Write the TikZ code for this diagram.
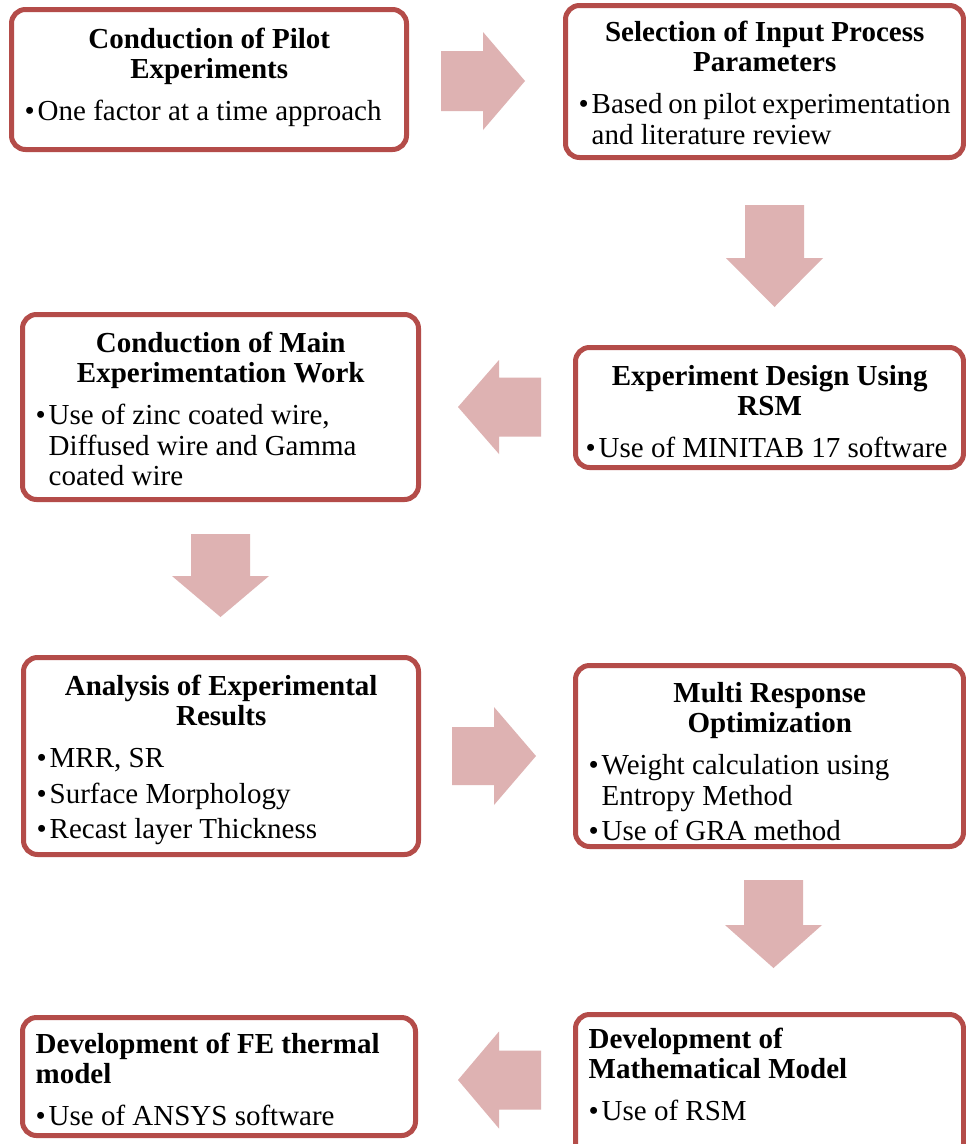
\documentclass[tikz,border=0pt]{standalone}
\usepackage{fontspec}
\setmainfont{Liberation Serif}
\definecolor{boxline}{RGB}{180,76,73}
\definecolor{arrowfill}{RGB}{222,178,178}
% title block and bullet paragraphs used inside the step boxes
\newcommand\steptitle[1]{{\centering\bfseries #1\par}\vspace{11.5pt}}
\newcommand\steptitleleft[1]{{\raggedright\bfseries #1\par}\vspace{11.5pt}}
\newcommand\stepitem[1]{\par\hangindent=13pt\hangafter=1\noindent\makebox[13pt][l]{•}#1\par}
\newcommand\stepgap{\vspace{5pt}}
\tikzset{
  stepbox/.style={draw=boxline, line width=5pt, rounded corners=14pt, fill=white,
    inner sep=0pt, rectangle},
  steptext/.style={inner sep=0pt, anchor=base west, align=left},
  % block arrow pointing right; #1 length, #2 head length, #3 head width, #4 shaft width
  pics/blockarrow/.style n args={4}{code={
    \fill[arrowfill] ({-#1/2},{-#4/2}) -- ({#1/2-#2},{-#4/2}) -- ({#1/2-#2},{-#3/2})
      -- ({#1/2},0) -- ({#1/2-#2},{#3/2}) -- ({#1/2-#2},{#4/2}) -- ({-#1/2},{#4/2}) -- cycle;
  }},
}
\newcommand\stepfont{\fontsize{29}{30.5}\selectfont}
\begin{document}
\begin{tikzpicture}[x=1pt,y=-1pt]
\clip (0,0) rectangle (966,1144);
\fill[white] (0,0) rectangle (966,1144);

% step boxes
\node[stepbox, minimum width=395, minimum height=140] (b1) at (209,79.5) {};
\node[stepbox, minimum width=398, minimum height=152] (b2) at (764.5,81.5) {};
\node[stepbox, minimum width=396, minimum height=185] (b3) at (220.5,407) {};
\node[stepbox, minimum width=388, minimum height=120] (b4) at (769.5,407.5) {};
\node[stepbox, minimum width=395, minimum height=197] (b5) at (221,756) {};
\node[stepbox, minimum width=388, minimum height=181] (b6) at (769.5,756) {};
\node[stepbox, minimum width=393, minimum height=118] (b7) at (219,1076.5) {};
\node[stepbox, minimum width=388, minimum height=146] (b8) at (769.5,1087.5) {};

% box contents
\node[steptext] (t1) at (24.5,48) {\stepfont\begin{minipage}[t]{369pt}
\steptitle{Conduction of Pilot\\Experiments}
\stepitem{One factor at a time approach}
\end{minipage}};
\node[steptext] (t2) at (578.5,41) {\stepfont\begin{minipage}[t]{372pt}
\steptitle{Selection of Input Process\\Parameters}
\stepitem{Based on pilot experimentation\\and literature review}
\end{minipage}};
\node[steptext] (t3) at (35.5,352) {\stepfont\begin{minipage}[t]{370pt}
\steptitle{Conduction of Main\\Experimentation Work}
\stepitem{Use of zinc coated wire,\\Diffused wire and Gamma\\coated wire}
\end{minipage}};
\node[steptext] (t4) at (585.5,385) {\stepfont\begin{minipage}[t]{368pt}
\steptitle{Experiment Design Using\\RSM}
\stepitem{Use of MINITAB 17 software}
\end{minipage}};
\node[steptext] (t5) at (36.5,695) {\stepfont\begin{minipage}[t]{369pt}
\steptitle{Analysis of Experimental\\Results}
\stepitem{MRR, SR}\stepgap
\stepitem{Surface Morphology}\stepgap
\stepitem{Recast layer Thickness}
\end{minipage}};
\node[steptext] (t6) at (588.5,702) {\stepfont\begin{minipage}[t]{362pt}
\steptitle{Multi Response\\Optimization}
\stepitem{Weight calculation using\\Entropy Method}\stepgap
\stepitem{Use of GRA method}
\end{minipage}};
\node[steptext] (t7) at (35.5,1053) {\stepfont\begin{minipage}[t]{367pt}
\steptitleleft{Development of FE thermal\\model}
\stepitem{Use of ANSYS software}
\end{minipage}};
\node[steptext] (t8) at (588.5,1048) {\stepfont\begin{minipage}[t]{362pt}
\steptitleleft{Development of\\Mathematical Model}
\stepitem{Use of RSM}
\end{minipage}};

% block arrows between the steps
\pic at (483,81) {blockarrow={84}{42}{98}{60}};
\pic[rotate=-90] at (774.5,256) {blockarrow={102}{49}{97}{59}};
\pic[rotate=180] at (499.5,407) {blockarrow={83}{41}{94}{59}};
\pic[rotate=-90] at (220.5,575.5) {blockarrow={83}{41}{97}{59}};
\pic at (494,756) {blockarrow={84}{42}{98}{58}};
\pic[rotate=-90] at (773.5,924) {blockarrow={88}{43}{97}{59}};
\pic[rotate=180] at (499.5,1080) {blockarrow={83}{41}{97}{59}};
\end{tikzpicture}
\end{document}
